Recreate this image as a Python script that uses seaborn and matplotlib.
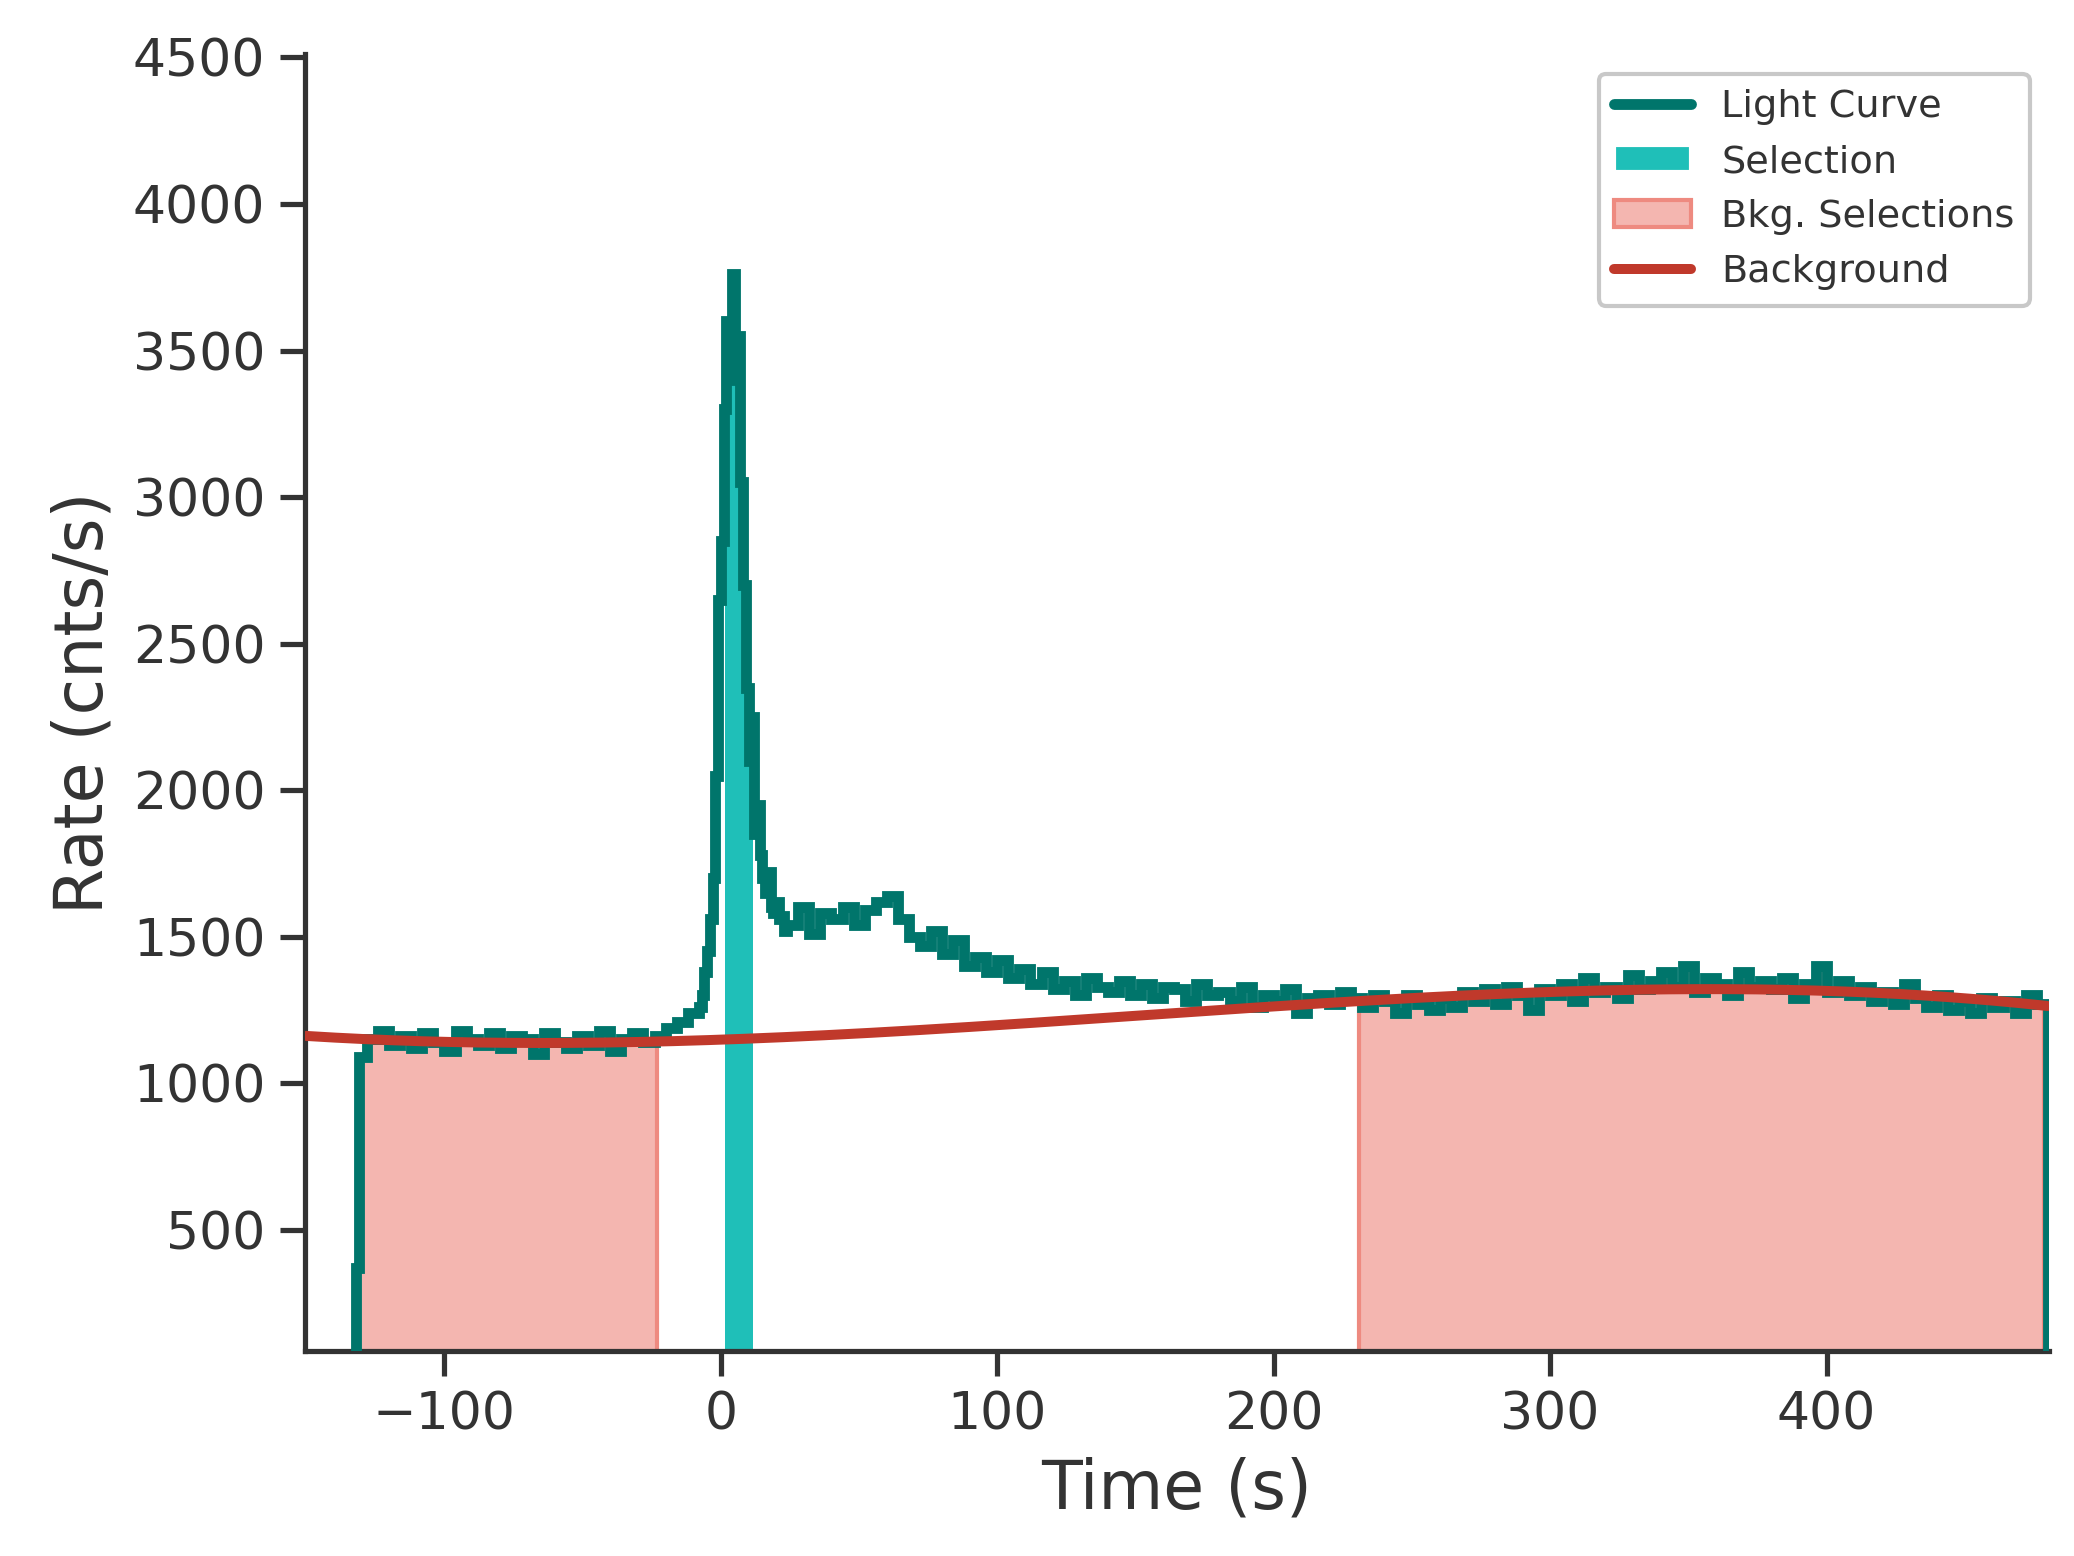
import numpy as np
import matplotlib
matplotlib.use("Agg")
import matplotlib.pyplot as plt
import seaborn as sns
from matplotlib.patches import Patch

# Light curve: variable-width bins (left edges per segment)
edges_a = [-132, -131] + list(range(-128, -8, 4))
vals_a = [370, 1090, 1150, 1180, 1130, 1160, 1120, 1170, 1140, 1110, 1180, 1150, 1130, 1170, 1120, 1160, 1150,
          1100, 1170, 1140, 1120, 1160, 1130, 1180, 1110, 1150, 1170, 1140, 1160, 1190, 1210, 1240]
edges_b = list(range(-8, 24, 1))
vals_b = [1260, 1300, 1380, 1450, 1560, 1700, 2050, 2650, 2850, 3300, 3600, 3480, 3760, 3400, 3550, 3050,
          2700, 2350, 2100, 2250, 1850, 1950, 1780, 1700, 1650, 1720, 1600, 1580, 1620, 1560, 1570, 1520]
edges_c = list(range(24, 481, 4))
vals_c = [1540, 1600, 1510, 1580, 1560, 1600, 1540, 1590, 1620,
          1640, 1560, 1500, 1470, 1520, 1440, 1490, 1400, 1430, 1380,
          1420, 1360, 1390, 1340, 1380, 1320, 1350, 1300, 1360, 1330,
          1310, 1350, 1300, 1340, 1290, 1330, 1320, 1280, 1340, 1300,
          1310, 1280, 1330, 1260, 1300, 1280, 1320, 1240, 1290, 1300,
          1270, 1310, 1290, 1260, 1300, 1280, 1240, 1300, 1270, 1250,
          1290, 1260, 1310, 1280, 1320, 1270, 1330, 1300, 1250, 1320,
          1300, 1340, 1280, 1360, 1310, 1330, 1290, 1370, 1320, 1350,
          1380, 1330, 1400, 1310, 1360, 1340, 1300, 1380, 1330, 1350,
          1320, 1360, 1290, 1340, 1400, 1310, 1350, 1300, 1330, 1280,
          1310, 1270, 1340, 1290, 1260, 1300, 1250, 1280, 1240, 1290,
          1260, 1280, 1240, 1300, 1270]
edges = np.array(edges_a + edges_b + edges_c)
rates = np.array(vals_a + vals_b + vals_c)

selection = (1.4, 11.5)
bkg_selections = [(-132.0, -23.1), (231.0, 478.8)]
bkg_x = [-150, -100, -50, 0, 50, 100, 150, 200, 250, 300, 350, 400, 450, 480]
bkg_y = [1160, 1143, 1140, 1150, 1168, 1195, 1228, 1265, 1295, 1312, 1320, 1312, 1290, 1265]

sns.set_theme(style="ticks")
plt.rcParams["text.color"] = "#333333"
fig = plt.figure(figsize=(2074/300, 1556/300), dpi=300)
ax = fig.add_axes([0.147, 0.132, 0.841, 0.833])


def rate_at(x):
    i = np.searchsorted(edges, x, "right") - 1
    return rates[min(max(i, 0), len(rates) - 1)]


lc_col = "#00756b"
ax.stairs(rates, edges, baseline=0, color=lc_col, lw=2.6, label="Light Curve", zorder=3)
a, b = selection
ax.stairs(rates, np.clip(edges, a, b), baseline=0, fill=True, color="#1fbfb8", lw=0, zorder=2)
for i, (a, b) in enumerate(bkg_selections):
    ax.stairs(rates, np.clip(edges, a, b), baseline=0, fill=True, color="#f4b6b0", lw=0, zorder=1)
    ax.vlines([a, b], 0, [rate_at(a), rate_at(b)], color="#ee8a80", lw=1, zorder=1)
xx = np.linspace(-150, 480, 300)
yy = np.polyval(np.polyfit(bkg_x, bkg_y, 4), xx)
sns.lineplot(x=xx, y=yy, ax=ax, color="#c0392b", lw=2.4, label="Background", zorder=4)

ax.set_xlim(-150.5, 480.5)
ax.set_ylim(88, 4510)
ax.set_yticks(range(500, 4501, 500))
ax.set_xticks([-100, 0, 100, 200, 300, 400])
ax.set_xlabel("Time (s)", fontsize=16, color="#333333")
ax.set_ylabel("Rate (cnts/s)", fontsize=16, color="#333333")
ax.tick_params(labelsize=12.5, colors="#333333")
for s in ["left", "bottom"]:
    ax.spines[s].set_color("#333333")
sns.despine(ax=ax)
handles = [plt.Line2D([], [], color=lc_col, lw=2.6),
           Patch(facecolor="#1fbfb8"),
           Patch(facecolor="#f4b6b0", edgecolor="#ee8a80"),
           plt.Line2D([], [], color="#c0392b", lw=2.4)]
order = ["Light Curve", "Selection", "Bkg. Selections", "Background"]
ax.legend(handles, order, loc="upper right", fontsize=9.2,
          frameon=True, fancybox=True, edgecolor="#bbbbbb")
fig.savefig("out.png", dpi=300)
